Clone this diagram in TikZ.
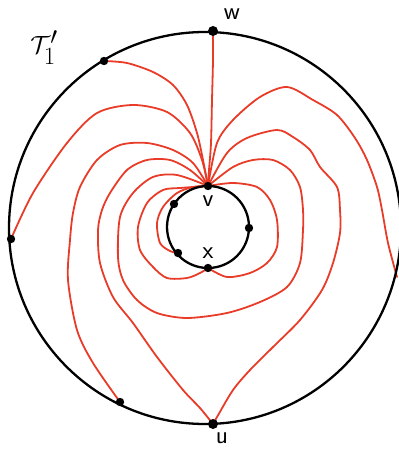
\documentclass[tikz,border=0pt]{standalone}
\usepackage{amsmath}
\definecolor{redline}{RGB}{232,60,40}
\begin{document}
\begin{tikzpicture}[x=1pt,y=-1pt,
  rc/.style={draw=redline,line width=1.8pt,line cap=round,line join=round},
  bc/.style={draw=black,line width=2.3pt},
  dot/.style={fill=black},
  lbl/.style={font=\fontsize{25}{28}\selectfont\sffamily,inner sep=0pt,text height=1ex,text depth=0pt}]
\useasboundingbox (0,0) rectangle (398,454);
% points
\coordinate (w) at (213,31);
\coordinate (u) at (213,424);
\coordinate (p1) at (104,61);
\coordinate (p2) at (11,239);
\coordinate (p3) at (120,402);
\coordinate (p4) at (397,277);
\coordinate (v) at (208,186);
\coordinate (b) at (208,268);
\coordinate (q) at (178,253);
\coordinate (s) at (174,204);
\coordinate (r) at (249,228);
% red curves
\draw[rc] plot[smooth] coordinates {(w) (213,60) (212,100) (211,143) (209,170) (v)};
\draw[rc] plot[smooth] coordinates {(p1) (127,63) (153,72) (173,85) (187,105) (197,133) (203,160) (v)};
\draw[rc] plot[smooth] coordinates {(p2) (33,193) (67,143) (97,113) (133,105) (167,112) (190,133) (202,160) (v)};
\draw[rc] plot[smooth] coordinates {(p3) (93,363) (77,330) (68,280) (70,240) (73,213) (80,187) (97,160) (120,145) (147,143) (173,150) (193,163) (v)};
\draw[rc] plot[smooth] coordinates {(u) (200,408) (183,390) (157,357) (133,323) (113,297) (100,263) (98,230) (102,210) (110,193) (127,170) (147,160) (170,160) (190,170) (v)};
\draw[rc] plot[smooth] coordinates {(v) (177,175) (153,177) (133,193) (120,217) (118,257) (123,280) (137,300) (157,313) (187,318) (227,313) (260,302) (287,287) (300,263) (303,230) (303,210) (300,187) (290,170) (273,160) (253,160) (233,167) (v)};
\draw[rc] plot[smooth] coordinates {(v) (180,188) (163,190) (147,203) (138,227) (140,250) (153,267) (167,278) (187,278) (200,273) (b)};
\draw[rc] plot[smooth] coordinates {(v) (193,187) (177,193) (163,207) (157,223) (160,243) (170,251) (q)};
\draw[rc] plot[smooth] coordinates {(v) (233,183) (257,187) (270,200) (277,220) (277,247) (267,263) (250,273) (227,277) (b)};
\draw[rc] plot[smooth] coordinates {(v) (227,153) (247,138) (277,130) (293,137) (310,150) (320,167) (337,187) (340,210) (340,233) (333,263) (322,290) (300,320) (273,347) (250,370) (233,390) (217,417) (u)};
\draw[rc] plot[smooth] coordinates {(v) (217,143) (233,120) (260,97) (287,87) (313,100) (337,115) (355,138) (367,160) (377,187) (382,210) (388,243) (p4)};
% circles
\draw[bc] (205,228) circle[radius=196];
\draw[bc] (208,227) circle[radius=41];
% dots
\foreach \p in {p1,p2,p3,v,b,q,s,r} \fill[dot] (\p) circle[radius=4.2];
\foreach \p in {w,u} \fill[dot] (\p) circle[radius=5];
% labels
\node[lbl] (lv) at (208,204) {v};
\node[lbl] (lx) at (208,256) {x};
\node[lbl] (lw) at (232,17) {w};
\node[lbl] (lu) at (222,441) {u};
\node[inner sep=0pt] (lg) at (44,48) {\fontsize{34}{36}\selectfont$\mathcal{T}_1'$};
\end{tikzpicture}
\end{document}
